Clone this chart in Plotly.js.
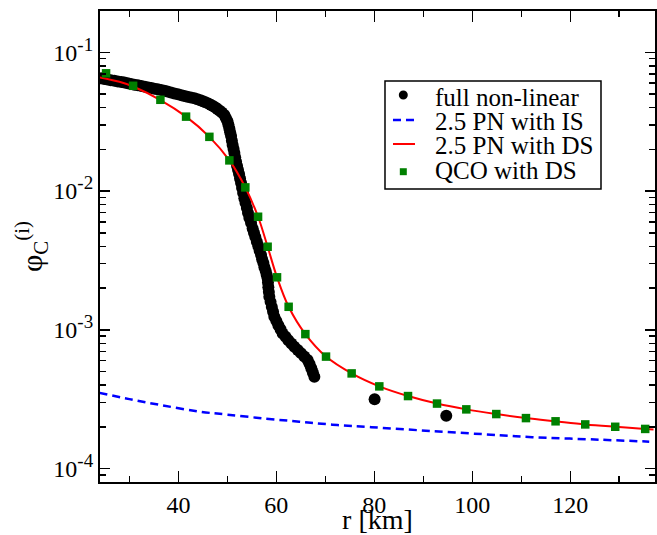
<!DOCTYPE html>
<html>
<head>
<meta charset="utf-8">
<script src="https://cdn.plot.ly/plotly-3.0.1.min.js"></script>
<style>html,body{margin:0;padding:0;background:#fff;}#chart{width:657px;height:535px;}</style>
</head>
<body>
<div id="chart"></div>
<script>
// full non-linear (read along the band, then the two isolated points)
const rFull = [24.22,24.86,25.51,26.22,26.94,27.65,28.37,28.98,29.65,30.33,31.02,31.73,32.45,33.16,33.88,34.49,35.10,35.78,36.47,37.14,37.76,38.47,39.18,39.90,40.61,41.22,41.84,42.55,43.27,43.88,44.49,45.0,45.51,46.12,46.67,47.14,47.55,47.96,48.37,48.88,49.39,49.69,50.00,50.20,50.41,50.57,50.76,50.92,51.08,51.27,51.43,51.59,51.78,51.98,52.18,52.39,52.59,52.80,53.00,53.22,53.47,53.71,53.98,54.22,54.49,54.84,55.16,55.43,55.71,56.02,56.33,56.59,56.88,57.10,57.35,57.57,57.82,58.02,58.22,58.29,58.37,58.47,58.57,58.82,59.08,59.33,59.59,60.0,60.41,60.86,61.29,61.88,62.45,63.06,63.67,64.37,65.04,65.71,66.39,66.78,67.14,67.45,67.76,80.06,94.69];
const phiFull = [0.0650,0.0643,0.0637,0.0630,0.0623,0.0617,0.0611,0.0605,0.0598,0.0592,0.0585,0.0578,0.0571,0.0565,0.0558,0.0553,0.0547,0.0541,0.0535,0.0528,0.0522,0.0514,0.0506,0.0499,0.0490,0.0484,0.0478,0.0472,0.0466,0.0459,0.0451,0.0444,0.0437,0.0427,0.0417,0.0409,0.0400,0.0390,0.0381,0.0368,0.0353,0.0336,0.0320,0.0302,0.0283,0.0266,0.0249,0.0231,0.0215,0.0201,0.0188,0.0175,0.01627,0.01514,0.01417,0.01327,0.01234,0.01142,0.01051,0.00967,0.00886,0.00820,0.00754,0.00694,0.00639,0.00588,0.00538,0.00501,0.00466,0.00432,0.00401,0.00372,0.00346,0.00323,0.00303,0.00283,0.00265,0.00249,0.00235,0.00219,0.00203,0.00187,0.00173,0.00159,0.00146,0.00135,0.00124,0.00116,0.00108,0.00101,0.000942,0.000890,0.000842,0.000796,0.000754,0.000714,0.000679,0.000641,0.000605,0.000566,0.000529,0.000492,0.000458,0.000316,0.000240];
// 2.5 PN with IS
const rIS = [23.88,30.0,36.47,44.29,50.06,57.90,64.69,71.43,79.39,91.84,105.51,112.24,125.92,136.12];
const phiIS = [3.515e-4,3.164e-4,2.865e-4,2.572e-4,2.446e-4,2.289e-4,2.178e-4,2.072e-4,1.988e-4,1.861e-4,1.741e-4,1.684e-4,1.615e-4,1.563e-4];
// 2.5 PN with DS
const rDS = [23.88,27.96,30.76,36.33,41.57,46.33,50.41,53.67,56.27,58.22,60.14,62.51,65.92,70.14,75.37,81.02,86.88,92.80,98.78,104.9,110.96,117.0,123.06,129.18,135.3,137.0];
const phiDS = [0.0661,0.0613,0.0567,0.0453,0.0344,0.0246,0.01664,0.01063,0.00653,0.00397,0.00239,0.001465,0.000931,0.000641,0.000485,0.000391,0.000333,0.000294,0.000267,0.000247,0.000231,0.000219,0.000208,0.000200,0.000193,0.000191];
// QCO with DS
const rQCO = [25.24,30.76,36.33,41.57,46.33,50.41,53.67,56.27,58.22,60.14,62.51,65.92,70.14,75.37,81.02,86.88,92.80,98.78,104.9,110.96,117.0,123.06,129.18,135.3];
const phiQCO = [0.0706,0.0574,0.0455,0.0344,0.0246,0.01664,0.01063,0.00653,0.00397,0.00239,0.001465,0.000931,0.000641,0.000485,0.000391,0.000333,0.000294,0.000267,0.000247,0.000231,0.000219,0.000208,0.000200,0.000193];
const names = ["full non-linear","2.5 PN with IS","2.5 PN with DS","QCO with DS"];
const xTickVals = [40,60,80,100,120];
const yTickVals = [1e-4,1e-3,1e-2,1e-1];
const yTickExp = ["-4","-3","-2","-1"];

const font = "Liberation Serif";
const traces = [
  {x:rFull, y:phiFull, name:names[0], mode:"markers", type:"scatter",
   marker:{color:"black", size:12, symbol:"circle"}},
  {x:rIS, y:phiIS, name:names[1], mode:"lines", type:"scatter",
   line:{color:"#0000ff", width:2.5, dash:"8px,5px", shape:"spline"}},
  {x:rDS, y:phiDS, name:names[2], mode:"lines", type:"scatter",
   line:{color:"#ff0000", width:2, shape:"spline"}},
  {x:rQCO, y:phiQCO, name:names[3], mode:"markers", type:"scatter",
   marker:{color:"#008000", size:8.5, symbol:"square"}}
];

// legend box drawn in the plot-area (paper) frame
const legRowY = [0.8174,0.7654,0.7134,0.6614];
const legendShapes = [
  {type:"rect", xref:"paper", yref:"paper", x0:0.5135, x1:0.9027, y0:0.6221, y1:0.8514,
   line:{color:"#000", width:1.5}, fillcolor:"#fff", layer:"above"},
  {type:"circle", xref:"paper", yref:"paper", x0:0.5384, x1:0.5546, y0:0.8121, y1:0.8312,
   line:{color:"#000", width:0}, fillcolor:"#000", layer:"above"},
  {type:"line", xref:"paper", yref:"paper", x0:0.5279, x1:0.5676, y0:0.7686, y1:0.7686,
   line:{color:"#0000ff", width:2.5, dash:"8px,5px"}, layer:"above"},
  {type:"line", xref:"paper", yref:"paper", x0:0.5279, x1:0.5676, y0:0.7176, y1:0.7176,
   line:{color:"#ff0000", width:2}, layer:"above"},
  {type:"rect", xref:"paper", yref:"paper", x0:0.5402, x1:0.5528, y0:0.6514, y1:0.6662,
   line:{color:"#008000", width:0}, fillcolor:"#008000", layer:"above"}
];
const legendAnnots = names.map((n,i)=>({
  text:n, xref:"paper", yref:"paper", x:0.6005, y:legRowY[i],
  xanchor:"left", yanchor:"middle", showarrow:false,
  font:{family:font, size:25, color:"#000"}
}));

const layout = {
  width:657, height:535,
  margin:{l:100, r:2, t:11, b:53},
  paper_bgcolor:"#fff", plot_bgcolor:"#fff",
  font:{family:font, color:"#000", size:24},
  showlegend:false,
  shapes:legendShapes,
  annotations:legendAnnots,
  xaxis:{range:[24,137.3], showgrid:false, zeroline:false,
    showline:true, linecolor:"#000", linewidth:2, mirror:"ticks",
    ticks:"inside", ticklen:11, tickwidth:1.5, tickcolor:"#000",
    tickvals:xTickVals, ticktext:xTickVals.map(String),
    tickfont:{family:font, size:24},
    minor:{dtick:10, tick0:0, ticks:"inside", ticklen:6, tickwidth:1.5, tickcolor:"#000", showgrid:false},
    title:{text:"r [km]", font:{family:font, size:28}, standoff:8}},
  yaxis:{type:"log", range:[-4.097,-0.702],
    tickmode:"array", tickvals:yTickVals,
    ticktext:yTickExp.map(e=>"10<sup><span style='font-size:19px'>"+e+"</span></sup>"),
    showgrid:false, zeroline:false,
    showline:true, linecolor:"#000", linewidth:2, mirror:"ticks",
    ticks:"inside", ticklen:10, tickwidth:1.5, tickcolor:"#000",
    tickfont:{family:font, size:24},
    minor:{dtick:"D1", ticks:"inside", ticklen:6, tickwidth:1.5, tickcolor:"#000", showgrid:false},
    title:{text:"φ<sub>C</sub><sup>(i)</sup>", font:{family:font, size:30}, standoff:2}}
};
Plotly.newPlot("chart", traces, layout, {staticPlot:true, displayModeBar:false});
</script>
</body>
</html>
